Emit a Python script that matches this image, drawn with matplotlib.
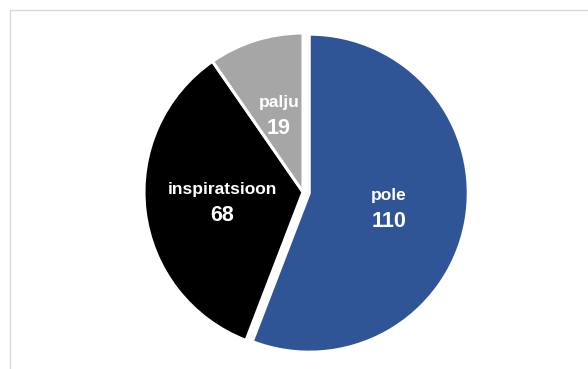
import numpy as np
import matplotlib.pyplot as plt
import matplotlib.patches as patches

plt.rcParams['font.family'] = ['Liberation Sans', 'DejaVu Sans']

categories = ['pole', 'inspiratsioon', 'palju']
values = [110, 68, 19]
colors = ['#2F5597', '#000000', '#A6A6A6']
explode = [0.04, 0, 0]

W, H = 588, 369
fig = plt.figure(figsize=(W/100, H/100), dpi=100)

# light frame around chart area (only left/top visible)
fig.add_artist(patches.Rectangle((10/W, -0.1), 1.0, (H-10)/H + 0.1,
                                 transform=fig.transFigure, fill=False,
                                 edgecolor='#D9D9D9', lw=1.0))

cx, cy, r = 303, 192, 159
ax = fig.add_axes([(cx-r)/W, (H-cy-r)/H, 2*r/W, 2*r/H])
wedges, _ = ax.pie(values, colors=colors, startangle=90, counterclock=False,
                   explode=explode, radius=1,
                   wedgeprops=dict(edgecolor='white', linewidth=2.2))
ax.set_xlim(-1, 1)
ax.set_ylim(-1, 1)
ax.set_aspect('auto')
ax.axis('off')

for w, name, val, ex in zip(wedges, categories, values, explode):
    ang = np.deg2rad((w.theta1 + w.theta2) / 2)
    x = (0.51 + ex) * np.cos(ang)
    y = (0.51 + ex) * np.sin(ang)
    ax.annotate(name, (x, y), xytext=(0, 9), textcoords='offset points',
                ha='center', va='center', color='white', fontsize=12.5,
                fontweight='bold')
    ax.annotate(str(val), (x, y), xytext=(0, -10), textcoords='offset points',
                ha='center', va='center', color='white', fontsize=15.5,
                fontweight='bold')

fig.savefig('out.png', dpi=100)
